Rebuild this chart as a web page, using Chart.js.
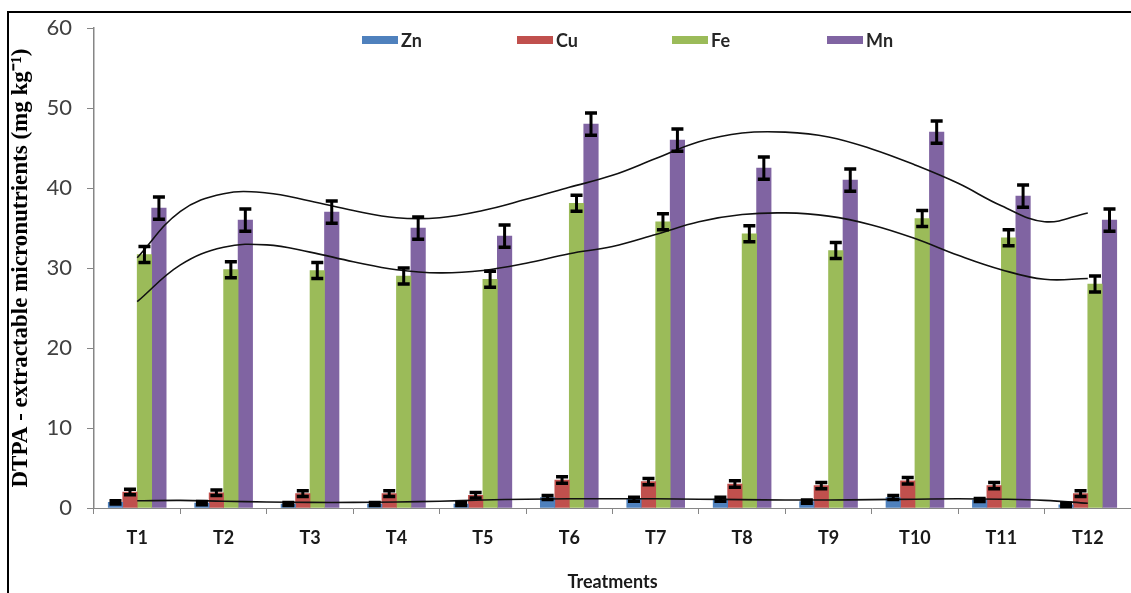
<!DOCTYPE html>
<html><head><meta charset="utf-8">
<script src="https://cdn.jsdelivr.net/npm/chart.js@4.4.1/dist/chart.umd.min.js"></script>
<style>
html,body{margin:0;padding:0;background:#fff;}
#wrap{position:relative;width:1131px;height:593px;overflow:hidden;}
#frame{position:absolute;left:7px;top:11px;right:-10px;bottom:-10px;border-left:2px solid #000;border-top:2px solid #000;pointer-events:none;}
canvas{position:absolute;left:0;top:0;}
</style></head><body>
<div id="wrap"><canvas id="c" width="1131" height="593"></canvas><div id="frame"></div></div>
<script>
// ---- data ----
const categories = ['T1','T2','T3','T4','T5','T6','T7','T8','T9','T10','T11','T12'];
const seriesNames = ['Zn','Cu','Fe','Mn'];
const znValues = [0.7, 0.6, 0.5, 0.5, 0.5, 1.3, 1.1, 1.1, 0.8, 1.3, 1.0, 0.4];
const cuValues = [2.0, 1.9, 1.8, 1.8, 1.6, 3.5, 3.3, 3.0, 2.8, 3.4, 2.8, 1.8];
const feValues = [31.7, 29.8, 29.7, 29.0, 28.6, 38.1, 35.8, 34.3, 32.2, 36.2, 33.8, 28.0];
const mnValues = [37.5, 36.0, 37.0, 35.0, 34.0, 48.0, 46.0, 42.5, 41.0, 47.0, 39.0, 36.0];
const znErrors = [0.2, 0.2, 0.2, 0.2, 0.2, 0.25, 0.25, 0.25, 0.2, 0.25, 0.2, 0.2];
const cuErrors = [0.35, 0.35, 0.35, 0.35, 0.35, 0.4, 0.4, 0.4, 0.4, 0.4, 0.4, 0.35];
const feErrors = [1.0, 1.0, 1.0, 1.0, 1.0, 1.0, 1.0, 1.0, 1.0, 1.0, 1.0, 1.0];
const mnErrors = [1.4, 1.4, 1.4, 1.4, 1.4, 1.4, 1.4, 1.4, 1.4, 1.4, 1.4, 1.4];
// trendline positions (category index) and values
const trendX = [0,0.5,1,1.5,2,2.5,3,3.5,4,4.5,5,5.5,6,6.5,7,7.5,8,8.5,9,9.5,10,10.5,11];
const mnTrend = [31.3,37.1,39.3,39.4,38.4,37.2,36.3,36.3,37.2,38.6,40.1,41.6,43.7,45.8,46.9,47.0,46.4,44.9,42.9,40.6,37.8,35.8,36.9];
const feTrend = [25.8,30.4,32.6,32.9,32.0,30.8,29.8,29.4,29.7,30.6,31.8,32.7,34.2,35.8,36.7,36.9,36.5,35.4,33.7,31.6,29.8,28.6,28.7];
const znTrend = [0.9,0.95,0.85,0.75,0.7,0.7,0.75,0.85,1.0,1.1,1.15,1.15,1.15,1.1,1.05,1.0,1.0,1.05,1.1,1.15,1.1,0.95,0.6];
const yTicks = [0,10,20,30,40,50,60];

const colors = {Zn:'#4F81BD', Cu:'#C0504D', Fe:'#9BBB59', Mn:'#8064A2'};

// layout of the bar cluster inside a category (fraction of one category per bar)
const barFraction = 0.1675;

const seriesValues = [znValues, cuValues, feValues, mnValues];
const seriesErrors = [znErrors, cuErrors, feErrors, mnErrors];

// one hidden linear index axis per series, shifted so the 4 bars sit side by side
const barAxes = {};
seriesNames.forEach((name, k) => {
  const shift = (k - 1.5) * barFraction;
  barAxes['xb' + k] = { type:'linear', axis:'x', display:false, min:-0.5 - shift, max:11.5 - shift, offset:false };
});

const barSets = seriesNames.map((name, k) => ({
  type:'bar', label:name, xAxisID:'xb' + k, yAxisID:'y', grouped:false, barThickness:14.5,
  data: seriesValues[k].map((v, i) => ({x:i, y:v})), errors: seriesErrors[k],
  backgroundColor:colors[name], borderWidth:0, order:2
}));

const trendSets = [mnTrend, feTrend, znTrend].map(t => ({
  type:'line', xAxisID:'xt', yAxisID:'y', data:trendX.map((x, i) => ({x:x, y:t[i]})),
  borderColor:'#111', borderWidth:1.6, pointRadius:0, tension:0.4, fill:false, order:1
}));

const errorBarPlugin = {
  id:'errorBars',
  afterDatasetsDraw(chart){
    const ctx = chart.ctx, yS = chart.scales.y;
    ctx.save();
    ctx.strokeStyle = '#000';
    chart.data.datasets.forEach((ds, i) => {
      if (!ds.errors) return;
      const meta = chart.getDatasetMeta(i);
      meta.data.forEach((bar, j) => {
        const v = ds.data[j].y, e = ds.errors[j];
        const yt = yS.getPixelForValue(v + e), yb = yS.getPixelForValue(v - e);
        ctx.lineWidth = 3;
        ctx.beginPath(); ctx.moveTo(bar.x, yt); ctx.lineTo(bar.x, yb); ctx.stroke();
        ctx.lineWidth = 3.5;
        ctx.beginPath();
        ctx.moveTo(bar.x - 6, yt); ctx.lineTo(bar.x + 6, yt);
        ctx.moveTo(bar.x - 6, yb); ctx.lineTo(bar.x + 6, yb);
        ctx.stroke();
      });
    });
    ctx.restore();
  }
};

const legendPlugin = {
  id:'topLegend',
  afterDraw(chart){
    const ctx = chart.ctx;
    const startX = 362, step = 155, y = 40;
    ctx.save();
    ctx.font = 'bold 18px Lato';
    ctx.textBaseline = 'middle';
    seriesNames.forEach((name, i) => {
      const x = startX + i*step;
      ctx.fillStyle = colors[name];
      ctx.fillRect(x, y - 4, 36, 8);
      ctx.fillStyle = '#262626';
      ctx.fillText(name, x + 39, y + 1);
    });
    ctx.restore();
  }
};

Chart.defaults.font.family = 'Lato';

new Chart(document.getElementById('c'), {
  type:'bar',
  data:{ labels:categories, datasets:[...barSets, ...trendSets] },
  options:{
    responsive:false, animation:false, devicePixelRatio:1,
    layout:{ padding:{left:0, right:0, top:28, bottom:0} },
    plugins:{ legend:{display:false}, tooltip:{enabled:false} },
    scales:Object.assign({
      x:{ type:'category', offset:true,
          grid:{display:true, drawOnChartArea:false, drawTicks:true, tickLength:6, color:'#868686', offset:true},
          border:{display:true, color:'#868686', width:1},
          ticks:{font:{size:18, weight:'bold'}, color:'#1a1a1a', padding:13},
          title:{display:true, text:'Treatments', font:{size:18, weight:'bold'}, color:'#1a1a1a', padding:{top:0,bottom:0}},
          afterFit(s){ s.height = 85; } },
      xt:{ type:'linear', axis:'x', display:false, min:-0.5, max:11.5, offset:false },
      y:{ min:0, max:60,
          afterBuildTicks(s){ s.ticks = yTicks.map(v=>({value:v})); },
          ticks:{font:{size:22}, color:'#404040', padding:15},
          grid:{drawOnChartArea:false, drawTicks:true, tickLength:7, color:'#868686'},
          border:{display:true, color:'#868686', width:1.5},
          title:{display:true, text:'DTPA - extractable micronutrients (mg kg\u207B\u00B9)',
                 font:{family:'Liberation Serif', size:23, weight:'bold'}, color:'#000', padding:{top:7,bottom:0}},
          afterFit(s){ s.width = 94; } }
    }, barAxes)
  },
  plugins:[errorBarPlugin, legendPlugin]
});
</script>
</body></html>
